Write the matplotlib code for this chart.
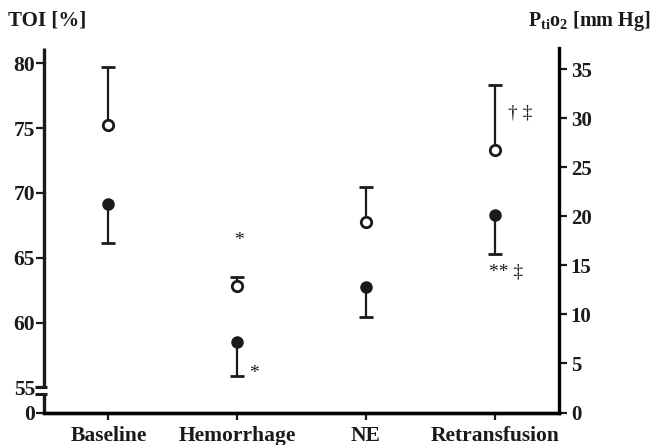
import matplotlib
matplotlib.use("Agg")
import matplotlib.pyplot as plt
import numpy as np

plt.rcParams['font.family'] = ['Liberation Serif', 'DejaVu Serif']
plt.rcParams['font.weight'] = 'bold'
plt.rcParams['mathtext.fontset'] = 'custom'
plt.rcParams['mathtext.rm'] = 'Liberation Serif:bold'
plt.rcParams['mathtext.it'] = 'Liberation Serif:bold'
plt.rcParams['mathtext.bf'] = 'Liberation Serif:bold'

# data
categories = ['Baseline', 'Hemorrhage', 'NE', 'Retransfusion']
toi_mean = [69.15, 58.5, 62.75, 68.3]      # filled circles, left axis
toi_lower = [66.1, 55.85, 60.45, 65.3]     # lower end of error bar
pti_mean = [29.3, 12.9, 19.4, 26.8]        # open circles, right axis
pti_upper = [35.2, 13.8, 23.0, 33.4]       # upper end of error bar

left_ticks = [55, 60, 65, 70, 75, 80]
right_ticks = [0, 5, 10, 15, 20, 25, 30, 35]

x = np.arange(len(categories))

fig = plt.figure(figsize=(6.53, 4.45), dpi=100)
ax = fig.add_axes([0.0674, 0.0730, 0.7887, 0.8191])
ax2 = ax.twinx()

ybot = 53.06  # where the broken left axis shows "0"
ax.set_xlim(-0.5, 3.5)
ax.set_ylim(ybot, 81.18)
ax2.set_ylim(0, 37.17)

# left axis: filled circles, error bar down
ax.vlines(x, toi_lower, toi_mean, color='#1a1a1a', lw=1.6, zorder=2)
ax.plot(x, toi_lower, ls='none', marker='_', ms=9.5, mew=2, color='#1a1a1a', zorder=2)
ax.plot(x, toi_mean, ls='none', marker='o', ms=8, color='#1a1a1a', zorder=3)

# right axis: open circles, error bar up
ax2.vlines(x, pti_mean, pti_upper, color='#1a1a1a', lw=1.6, zorder=2)
ax2.plot(x, pti_upper, ls='none', marker='_', ms=9.5, mew=2, color='#1a1a1a', zorder=2)
ax2.plot(x, pti_mean, ls='none', marker='o', ms=7.5, mfc='white', mec='#1a1a1a',
         mew=2, zorder=3)

# spines
for a in (ax, ax2):
    a.spines['top'].set_visible(False)
    a.spines['bottom'].set_linewidth(2.4)
    a.spines['right'].set_linewidth(2.4)
ax.spines['right'].set_visible(False)
ax2.spines['left'].set_visible(False)
ax.spines['left'].set_visible(False)

# broken left spine
yt = ax.get_yaxis_transform()
ax.plot([0, 0], [ybot, 54.48], transform=yt, color='#1a1a1a', lw=2.4,
        clip_on=False, solid_capstyle='butt')
ax.plot([0, 0], [55.0, 81.18], transform=yt, color='#1a1a1a', lw=2.4,
        clip_on=False, solid_capstyle='butt')
for yb in (55.0, 54.48):
    ax.plot([-0.017, 0.005], [yb, yb], transform=yt, color='#1a1a1a', lw=2.2,
            clip_on=False, solid_capstyle='butt')

# ticks
ax.set_yticks([ybot] + left_ticks)
ax.set_yticklabels(['0'] + [str(t) for t in left_ticks])
ax2.set_yticks(right_ticks)
ax2.set_yticklabels([str(t) for t in right_ticks])
ax.set_xticks(x)
ax.set_xticklabels(categories)

ax.tick_params(axis='y', direction='out', length=5.5, width=1.6, pad=1,
               labelsize=15.5, colors='#1a1a1a')
ax2.tick_params(axis='y', direction='out', length=5.5, width=1.6, pad=3,
                labelsize=15, colors='#1a1a1a')
ax.tick_params(axis='x', direction='out', length=5, width=1.6, pad=4.5,
               labelsize=15.5, colors='#1a1a1a')
for lab in ax.get_xticklabels() + ax.get_yticklabels() + ax2.get_yticklabels():
    lab.set_fontweight('bold')

# significance marks
mark = dict(fontsize=14, fontweight='normal', ha='center', va='center', color='#1a1a1a')
ax2.text(1.01, 17.5, '*', **mark)
ax2.text(1.13, 3.97, '*', **mark)
ax2.text(3.195, 30.55, '† ‡', **mark)
ax2.text(3.086, 14.36, '** ‡', **mark)

# axis titles
fig.text(8 / 653, 1 - 21 / 445, 'TOI [%]', fontsize=15, fontweight='bold',
         ha='left', va='center', color='#1a1a1a')
fig.text(651 / 653, 1 - 21 / 445, r'$\mathbf{P_{ti}o_{2}}$ [mm Hg]', fontsize=14.5,
         fontweight='bold', ha='right', va='center', color='#1a1a1a')

fig.savefig('out.png', dpi=100)
